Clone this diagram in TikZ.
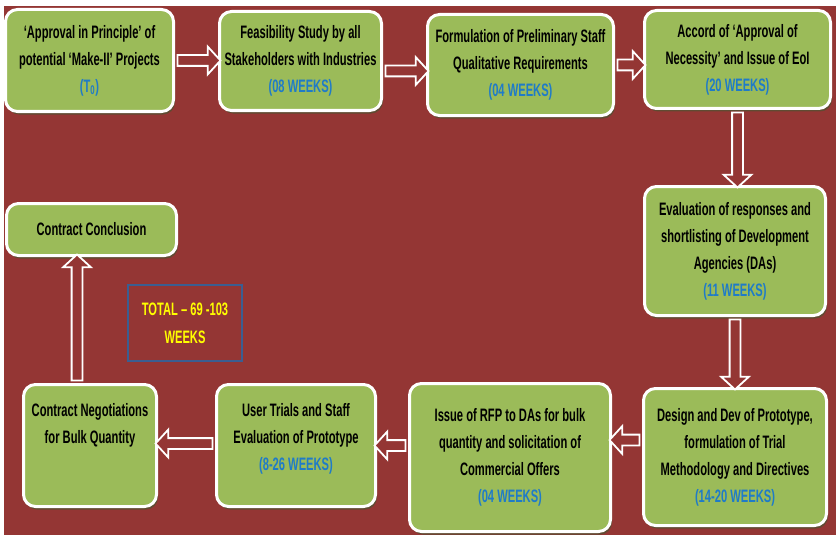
\documentclass[tikz,border=0pt]{standalone}
\usepackage{fontspec}
\setmainfont[FakeStretch=0.62]{Liberation Sans}
\usepackage{xcolor}
\usetikzlibrary{shapes.arrows,shadows,calc}
\definecolor{bgred}{HTML}{943634}
\definecolor{boxgreen}{HTML}{9BBB59}
\definecolor{boxshadow}{HTML}{5F4B32}
\definecolor{weekblue}{HTML}{1F7BC8}
\definecolor{totalblue}{HTML}{3B5E91}
\definecolor{totalyellow}{HTML}{FFFF00}
\newcommand{\Weeks}[1]{\textcolor{weekblue}{#1}}
\newcommand{\blockarrow}[2]{%
  \path let \p1=(#1), \p2=(#2), \n1={veclen(\x2-\x1,\y2-\y1)}, \n2={atan2(\y2-\y1,\x2-\x1)} in
    ($(\p1)!0.5!(\p2)$) node[hollowarrow, minimum height=\n1, rotate=\n2] {};}
\tikzset{
  stage/.style={rectangle, rounded corners=12pt, draw=white, line width=3pt, fill=boxgreen,
    align=center, font=\fontsize{18}{27}\selectfont\bfseries, inner sep=2pt,
    drop shadow={shadow xshift=1.5pt,shadow yshift=-3pt,fill=boxshadow,opacity=1}},
  hollowarrow/.style={single arrow, draw=white, line width=1.8pt, fill=bgred,
    inner xsep=0pt, inner ysep=4.5pt, single arrow head extend=8.5pt,
    single arrow tip angle=95, minimum width=0pt},
  totalbox/.style={rectangle, draw=totalblue, line width=2pt, text=totalyellow,
    align=center, font=\fontsize{18}{28}\selectfont\bfseries}
}
\begin{document}
\begin{tikzpicture}[x=1pt,y=-1pt]
\useasboundingbox (0,0) rectangle (836,535);
\fill[white] (0,0) rectangle (836,535);
\fill[bgred] (4,6) rectangle (836,535);
% \draw[help lines,step=50] (0,0) grid (836,535);
\node (appr) [stage, minimum width=168pt, minimum height=102pt] at (89.5,60.5)
  {‘Approval in Principle’ of\\potential ‘Make-II’ Projects\\\Weeks{(T\textsubscript{0})}};
\node (feas) [stage, minimum width=162pt, minimum height=99pt] at (300.5,61)
  {Feasibility Study by all\\Stakeholders with Industries\\\Weeks{(08 WEEKS)}};
\node (qr) [stage, minimum width=186pt, minimum height=101pt] at (520.5,65)
  {Formulation of Preliminary Staff\\Qualitative Requirements\\\Weeks{(04 WEEKS)}};
\node (aon) [stage, minimum width=186pt, minimum height=98pt] at (737.5,59.5)
  {Accord of ‘Approval of\\Necessity’ and Issue of EoI\\\Weeks{(20 WEEKS)}};
\node (eval) [stage, minimum width=181pt, minimum height=129pt] at (735,251)
  {Evaluation of responses and\\shortlisting of Development\\Agencies (DAs)\\\Weeks{(11 WEEKS)}};
\node (proto) [stage, minimum width=183pt, minimum height=137pt] at (735,457)
  {Design and Dev of Prototype,\\formulation of Trial\\Methodology and Directives\\\Weeks{(14-20 WEEKS)}};
\node (rfp) [stage, minimum width=201pt, minimum height=148pt] at (510,457.5)
  {Issue of RFP to DAs for bulk\\quantity and solicitation of\\Commercial Offers\\\Weeks{(04 WEEKS)}};
\node (trials) [stage, minimum width=159pt, minimum height=122pt, inner sep=0pt] at (296,445.5)
  {\parbox[c][84pt][t]{150pt}{\centering User Trials and Staff\\Evaluation of Prototype\\\Weeks{(8-26 WEEKS)}}};
\node (negot) [stage, minimum width=133pt, minimum height=122pt, inner sep=0pt] at (90,445.5)
  {\parbox[c][84pt][t]{130pt}{\centering Contract Negotiations\\for Bulk Quantity}};
\node (concl) [stage, minimum width=170pt, minimum height=52pt] at (91.5,229.5)
  {Contract Conclusion};
\node (total) [totalbox, minimum width=114pt, minimum height=76pt] at (185,323)
  {TOTAL – 69 -103\\WEEKS};
%
\blockarrow{appr.east}{appr.east -| feas.west}
\blockarrow{[yshift=-10pt]feas.east}{[yshift=-10pt]feas.east -| qr.west}
\blockarrow{qr.east}{qr.east -| aon.west}
\blockarrow{aon.south}{aon.south |- eval.north}
\blockarrow{eval.south}{eval.south |- proto.north}
\blockarrow{[yshift=17pt]proto.west}{[yshift=17pt]proto.west -| rfp.east}
\blockarrow{[yshift=12pt]rfp.west}{[yshift=12pt]rfp.west -| trials.east}
\blockarrow{[yshift=2pt]trials.west}{[yshift=2pt]trials.west -| negot.east}
\blockarrow{[xshift=-13pt]negot.north}{[xshift=-13pt]negot.north |- concl.south}
\end{tikzpicture}
\end{document}
